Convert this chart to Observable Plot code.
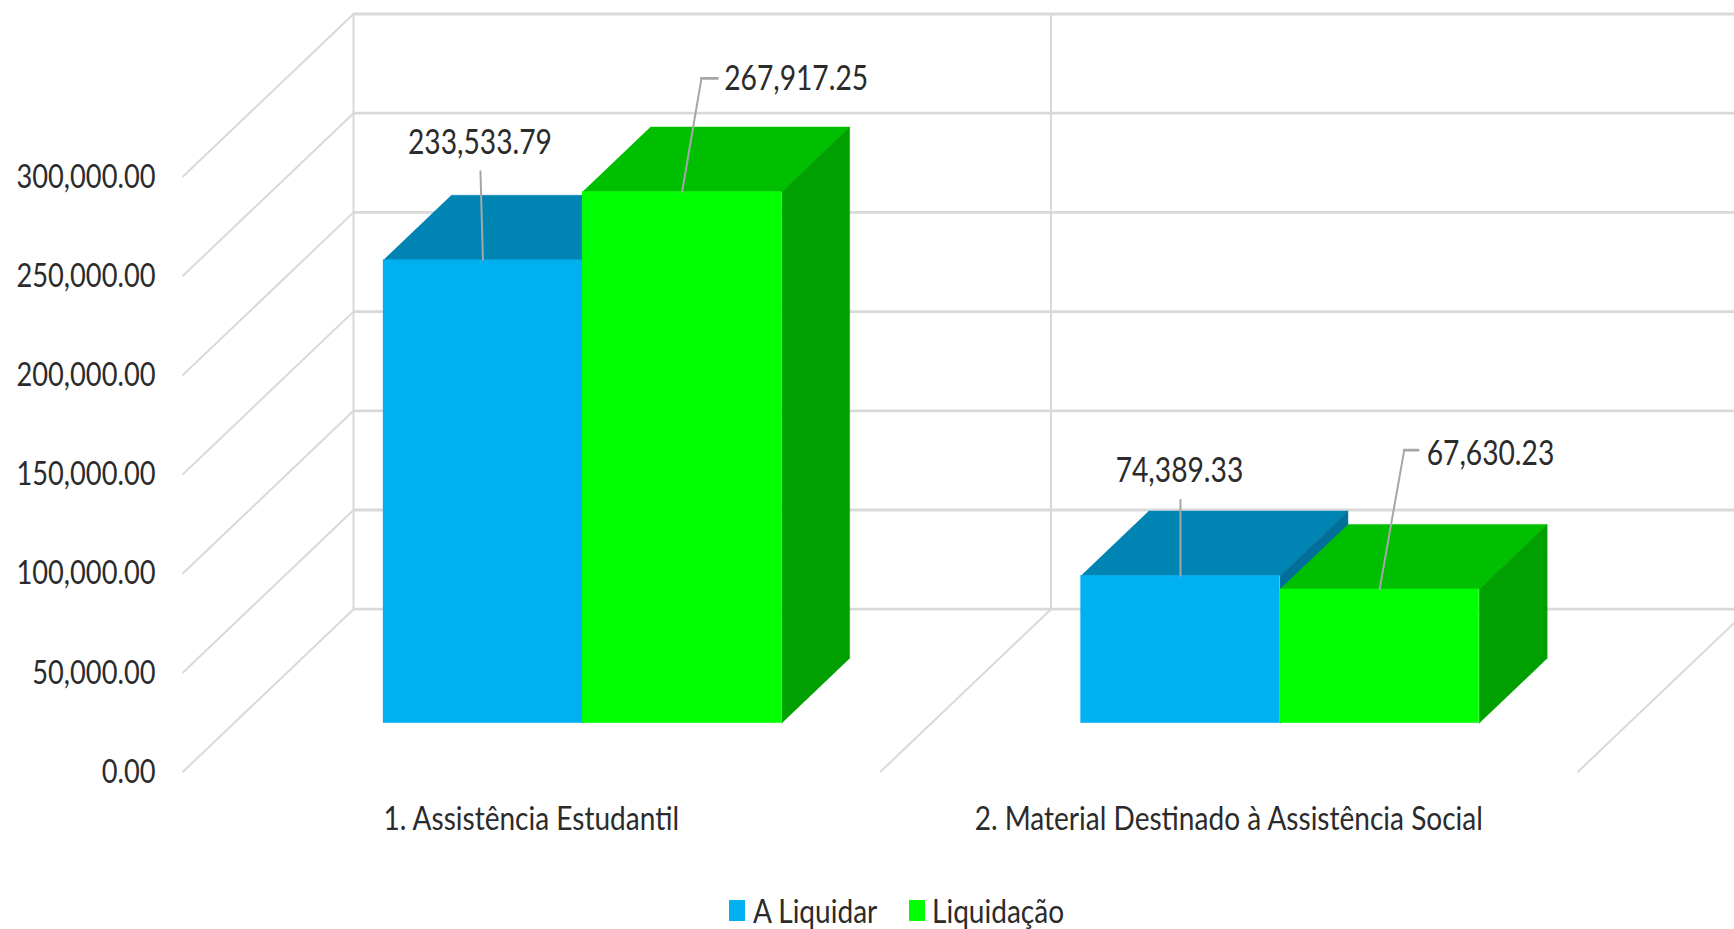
<!DOCTYPE html>
<html><head><meta charset="utf-8">
<script src="https://cdn.jsdelivr.net/npm/d3@7"></script>
<script src="https://cdn.jsdelivr.net/npm/@observablehq/plot@0.6"></script>
<style>
html,body{margin:0;padding:0;background:#fff;overflow:hidden}
svg{display:block}
#legend{position:relative;height:39px;font-family:Lato,sans-serif;color:#2b2b2b}
#legend i{position:absolute;display:block;top:10px;height:21px;width:16px}
#legend span{position:absolute;top:-1px;line-height:42px;font-size:33px;white-space:nowrap;transform-origin:0 50%}
</style></head><body>
<div id="chart"></div>
<div id="legend"></div>
<script>
const categories = ["1. Assistência Estudantil", "2. Material Destinado à Assistência Social"];
const series = ["A Liquidar", "Liquidação"];
const aLiquidar = [233533.79, 74389.33];
const liquidacao = [267917.25, 67630.23];
const yTicks = [0, 50000, 100000, 150000, 200000, 250000, 300000];
const faceColors = ["#00B0F0", "#00FF00"];
const topColors = ["#0084B4", "#00BF00"];
const sideColors = ["#006F99", "#00A000"];

// layout: one category = 697.5px, 50,000 units = 99.2px
const W = 1734, H = 890, pxX = 697.5, pxY = 99.2 / 50000;
const x0 = 182, y0 = 771.7, mL = 155;
const depthX = 171 / pxX, depthY = 163 / pxY;
const zFront = 0.3, zBack = 0.697, barW = 199.2 / pxX, gap = (1 - 2 * barW) / 2;
const dX = px => px / pxX, dY = px => px / pxY;
const P = (c, v, z) => ({x: c + z * depthX, y: v + z * depthY});
const values = [aLiquidar, liquidacao];

const marks = [];
const grid = {stroke: "#d9d9d9"};
// back wall
marks.push(Plot.ruleY(yTicks, {...grid, strokeWidth: 2.8, y: d => d + depthY, x1: depthX, x2: (W - x0) / pxX}));
marks.push(Plot.ruleX([0, 1], {...grid, strokeWidth: 2, x: d => d + depthX, y1: depthY, y2: 300000 + depthY}));
// left-wall and floor diagonals
marks.push(Plot.link(yTicks, {...grid, strokeWidth: 2, x1: 0, y1: d => d, x2: depthX, y2: d => d + depthY}));
marks.push(Plot.link([1, 2], {...grid, strokeWidth: 2, x1: d => d, y1: 0, x2: d => d + depthX, y2: depthY}));

// bars
categories.forEach((_, c) => series.forEach((_, s) => {
  const v = values[s][c];
  const a = c + gap + s * barW, b = a + barW;
  const quad = (pts, fill) => marks.push(Plot.line(pts, {x: "x", y: "y", fill, stroke: fill, strokeWidth: 0.5}));
  quad([P(a, v, zFront), P(b, v, zFront), P(b, v, zBack), P(a, v, zBack)], topColors[s]);
  quad([P(b, 0, zFront), P(b, v, zFront), P(b, v, zBack), P(b, 0, zBack)], sideColors[s]);
  const f0 = P(a, 0, zFront), f1 = P(b, v, zFront);
  marks.push(Plot.rect([0], {x1: f0.x, x2: f1.x, y1: f0.y, y2: f1.y, fill: faceColors[s]}));
}));

// leader offsets from the bar's front-top-centre, in px
const leaders = [
  {c: 0, s: 0, from: [-2.5, -88.6], lab: [-3, -116.5], anchor: "middle"},
  {c: 0, s: 1, from: [19.3, -113.4], elbow: 35.4, lab: [42, -112.5], anchor: "start"},
  {c: 1, s: 0, from: [0, -76], lab: [-1, -105], anchor: "middle"},
  {c: 1, s: 1, from: [24.6, -139], elbow: 38.6, lab: [47, -135], anchor: "start"}
];
const fmt = d3.format(",.2f");
leaders.forEach(l => {
  const v = values[l.s][l.c];
  const a = P(l.c + gap + (l.s + .5) * barW, v, zFront);
  const pt = ([dx, dy]) => ({x: a.x + dX(dx), y: a.y - dY(dy)});
  marks.push(Plot.line([a, pt(l.from)], {x: "x", y: "y", stroke: "#a6a6a6", strokeWidth: 2}));
  if (l.elbow) marks.push(Plot.line([pt(l.from), pt([l.elbow, l.from[1]])], {x: "x", y: "y", stroke: "#a6a6a6", strokeWidth: 2.8}));
  const t = pt(l.lab);
  marks.push(Plot.text([fmt(v)], {x: t.x, y: t.y, text: d => d, textAnchor: l.anchor, fontSize: 34, fontFamily: "Lato, sans-serif", fill: "#2b2b2b"}));
});

// axes
marks.push(Plot.axisY({ticks: yTicks, tickSize: 0, tickPadding: 0, label: null, tickFormat: d3.format(",.2f"),
  fontSize: 33, fontFamily: "Lato, sans-serif", fill: "#2b2b2b"}));
marks.push(Plot.axisX({ticks: [0.5, 1.5], tickSize: 0, tickPadding: 0, label: null, tickFormat: d => categories[Math.floor(d)],
  fontSize: 33, fontFamily: "Lato, sans-serif", fill: "#2b2b2b"}));

const bottomPx = 806;
const plot = Plot.plot({
  width: W, height: H, marginLeft: mL, marginRight: 0, marginTop: 0, marginBottom: H - bottomPx,
  style: {background: "#fff", overflow: "hidden"},
  x: {type: "linear", domain: [(mL - x0) / pxX, (W - x0) / pxX], range: [mL, W]},
  y: {type: "linear", domain: [(y0 - bottomPx) / pxY, y0 / pxY], range: [bottomPx, 0]},
  marks
});
// the reference's type is vertically stretched: condense every label horizontally
plot.querySelectorAll("text").forEach(t => {
  const role = t.parentNode.getAttribute("aria-label") || "";
  const k = role.startsWith("y-axis") ? 0.826 : role.startsWith("x-axis") ? 0.85 : 0.83;
  const tr = t.getAttribute("transform") || "";
  t.setAttribute("transform", tr + ` scale(${k},1)`);
});
document.getElementById("chart").append(plot);

const legend = document.getElementById("legend");
const lx = [[729, 753], [909, 932]];
series.forEach((name, i) => {
  const sw = document.createElement("i");
  sw.style.left = lx[i][0] + "px"; sw.style.background = faceColors[i];
  const sp = document.createElement("span");
  sp.style.left = lx[i][1] + "px"; sp.style.transform = "scaleX(0.85)";
  sp.textContent = name;
  legend.append(sw, sp);
});
</script>
</body></html>
